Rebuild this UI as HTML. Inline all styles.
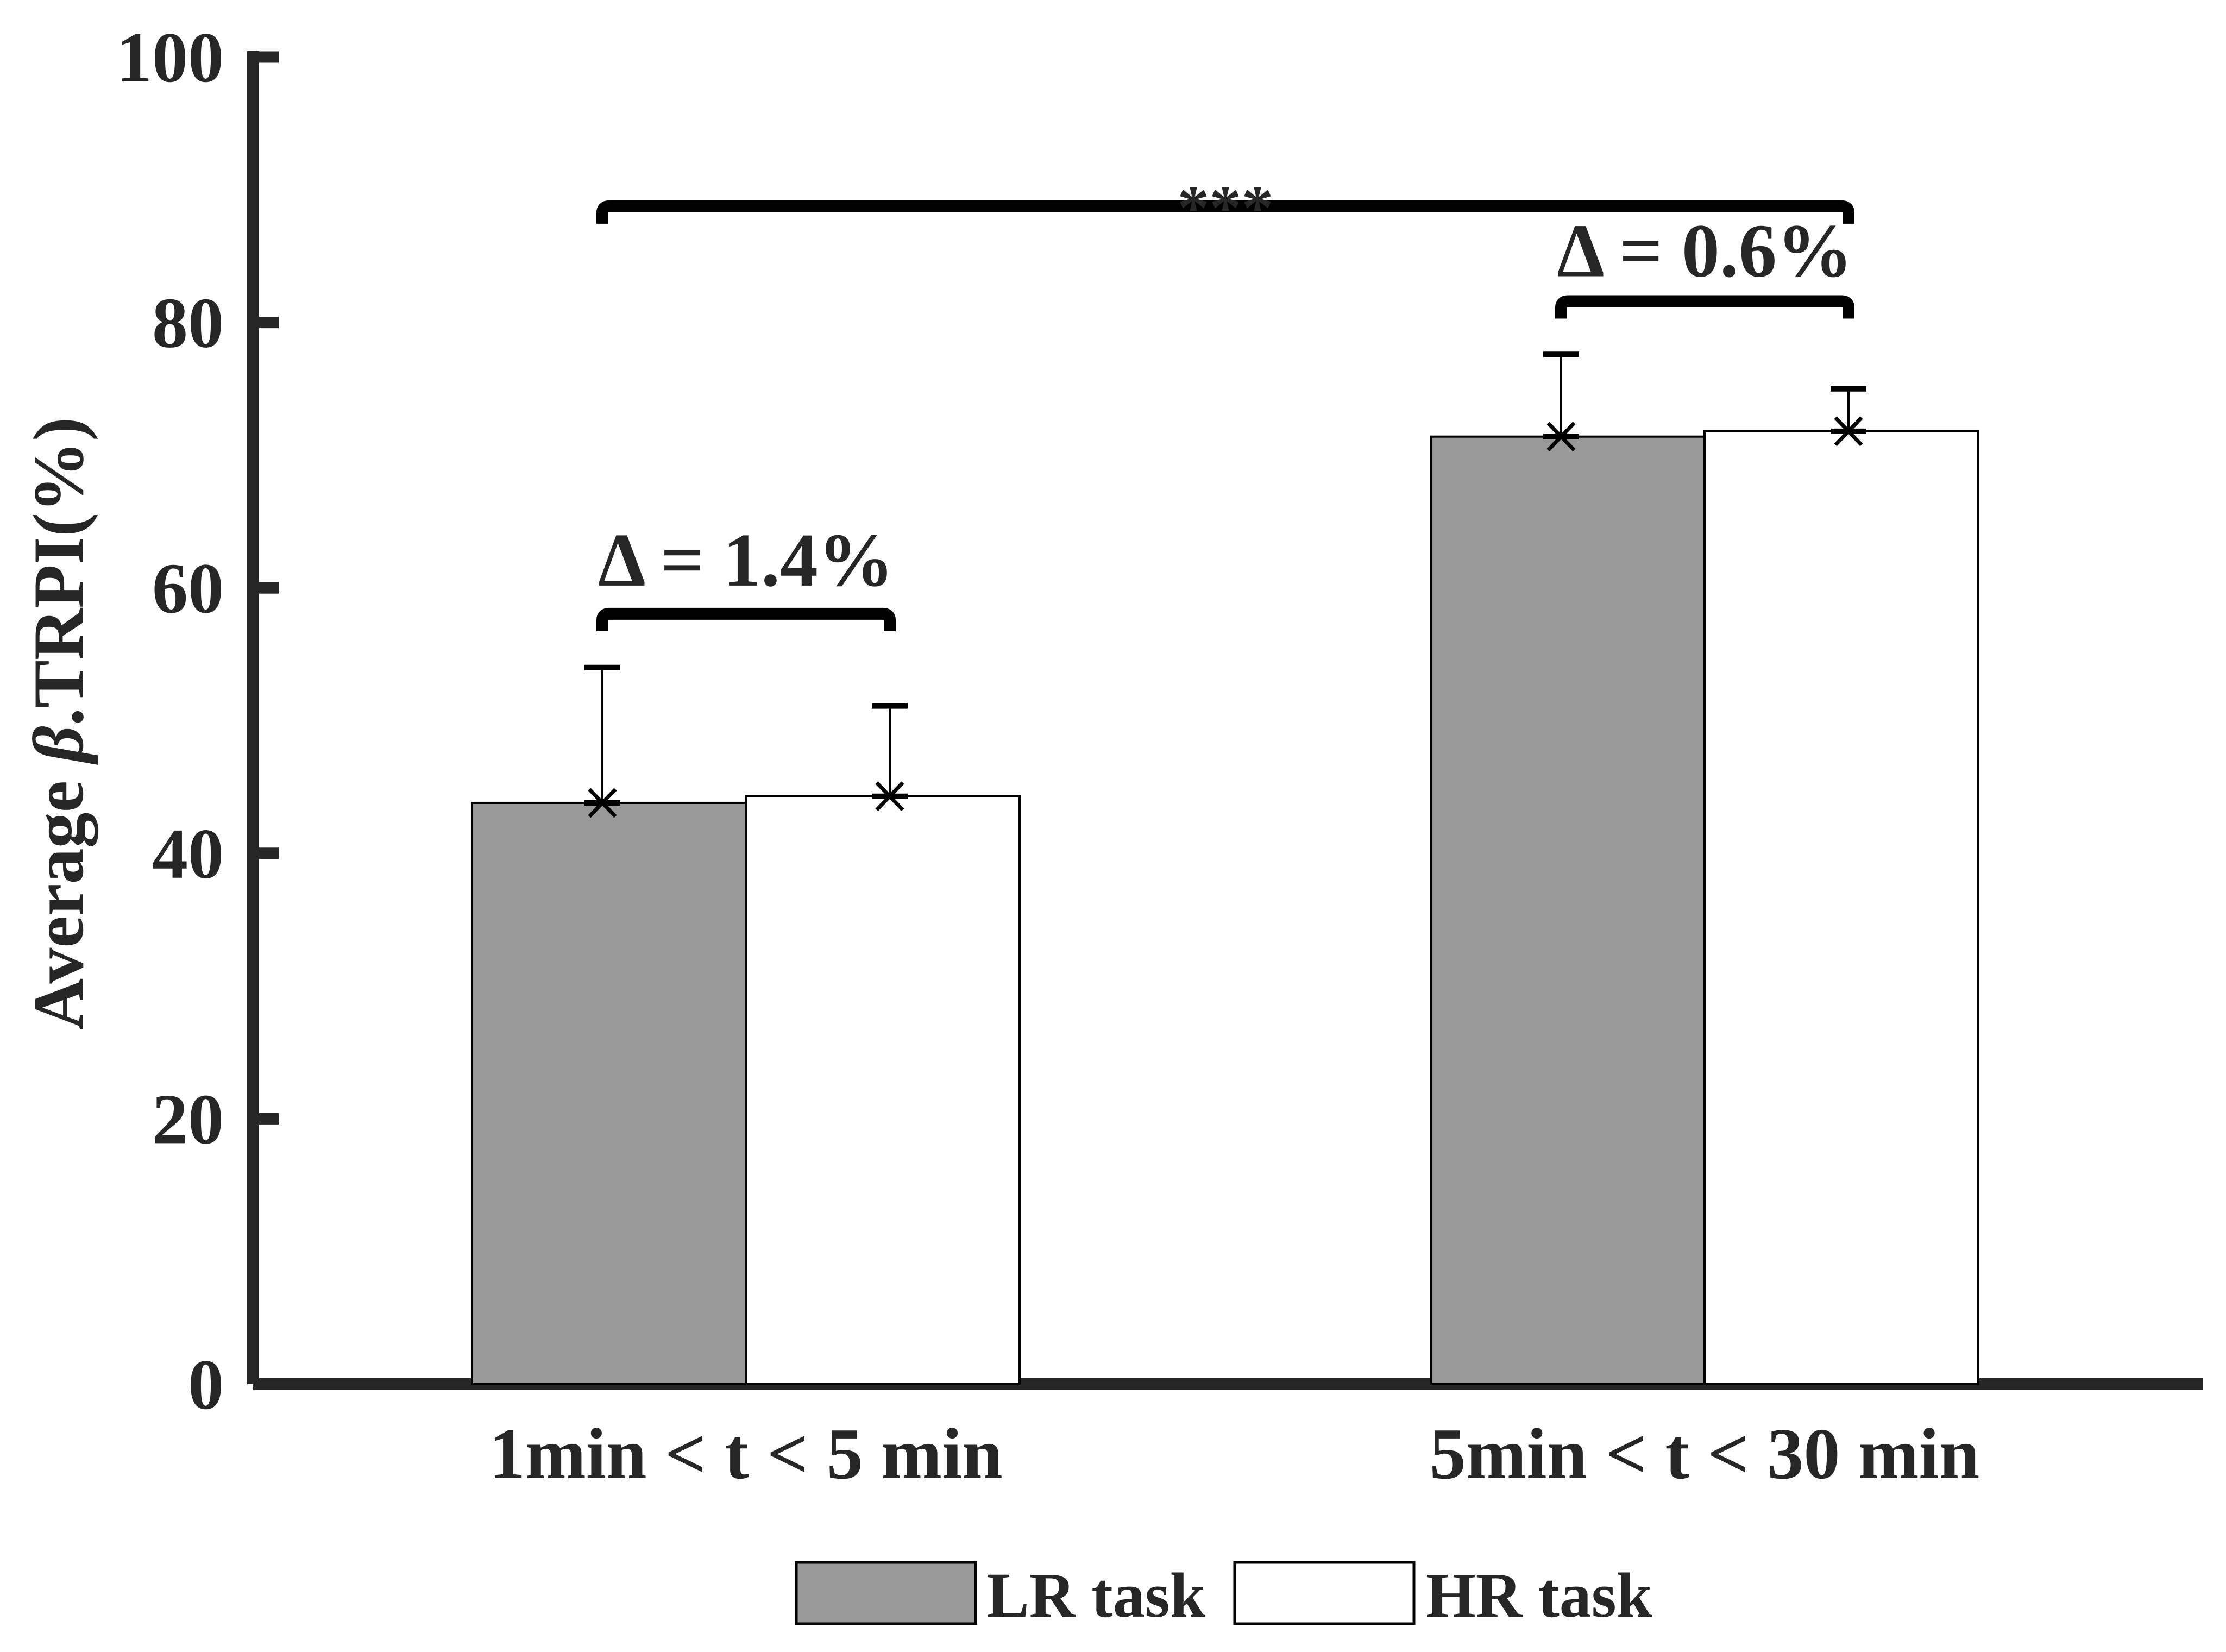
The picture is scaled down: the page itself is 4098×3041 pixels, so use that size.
<!DOCTYPE html>
<html><head><meta charset="utf-8"><style>
html,body{margin:0;padding:0;background:#fff}
svg{display:block}
text{font-family:"Liberation Serif",serif;font-weight:bold;fill:#262626}
</style></head><body>
<svg id="chart" width="4098" height="3041" viewBox="0 0 4098 3041" xmlns="http://www.w3.org/2000/svg">
<g id="axes"></g>
<g id="bars"></g>
<g id="errs"></g>
<g id="sig"></g>
<text x="0" y="0" font-size="132" text-anchor="middle" transform="translate(152,1332) rotate(-90)">Average <tspan font-style="italic">β</tspan>.TRPI(%)</text>
<g>
<rect x="1466" y="2876" width="330" height="113" fill="#999999" stroke="#000" stroke-width="5"/>
<text x="1816" y="2976" font-size="118" fill="#000">LR task</text>
<rect x="2273" y="2876" width="330" height="113" fill="#fff" stroke="#000" stroke-width="5"/>
<text x="2625" y="2976" font-size="118" fill="#000">HR task</text>
</g>
</svg>
<script>
const categories = ["1min < t < 5 min", "5min < t < 30 min"];
const lrValues = [43.8, 71.4];
const hrValues = [44.3, 71.8];
const lrErrors = [10.2, 6.2];
const hrErrors = [6.8, 3.2];
const yTicks = [0, 20, 40, 60, 80, 100];
const sigLabels = ["Δ = 1.4%", "Δ = 0.6%", "***"];
const sigLevels = [58.05, 81.6, 88.75];

const NS = "http://www.w3.org/2000/svg";
const y0 = 2548, yTop = 105;
function yScale(v){ return y0 - (y0 - yTop) * v / 100; }
const groupCenters = [1373, 3138];
const barW = 504;
function xCenter(i){ return groupCenters[i]; }
function mk(tag, attrs, parent){
  const e = document.createElementNS(NS, tag);
  for (const k in attrs) e.setAttribute(k, attrs[k]);
  parent.appendChild(e); return e;
}
const axes = document.getElementById('axes');
const bars = document.getElementById('bars');
const errs = document.getElementById('errs');
const sig = document.getElementById('sig');

let yl = mk('rect', {x:455, y:yScale(100)-11, width:22, height:y0-yScale(100)+11, fill:'#262626'}, axes);


yTicks.forEach(t => {
  const yy = yScale(t);
  if (t > 0) {
    const tk = mk('rect', {x:477, y:yy-10.5, width:36, height:21, fill:'#262626'}, axes);
    
    
  }
  const tl = mk('text', {x:412, y:yy+45, 'font-size':132, 'text-anchor':'end'}, axes);
  tl.textContent = t;
  
  
});

categories.forEach((c, i) => {
  const cx = xCenter(i);
  const lr = mk('rect', {x:cx-barW, y:yScale(lrValues[i]), width:barW, height:y0-yScale(lrValues[i]), fill:'#999999', stroke:'#000', 'stroke-width':4}, bars);
  
  
  const hr = mk('rect', {x:cx, y:yScale(hrValues[i]), width:barW, height:y0-yScale(hrValues[i]), fill:'#fff', stroke:'#000', 'stroke-width':4}, bars);
  
  
  const lab = mk('text', {x:cx, y:2721, 'font-size':134, 'text-anchor':'middle'}, axes);
  lab.textContent = c;
  
  
});

let xl = mk('rect', {x:466, y:2537, width:3590, height:22, fill:'#262626'}, axes);



function errBar(x, v, e, name){
  const g = mk('g', {}, errs);
  
  
  const ym = yScale(v), yt = yScale(v + e);
  mk('line', {x1:x, y1:ym, x2:x, y2:yt, stroke:'#000', 'stroke-width':4}, g);
  mk('line', {x1:x-33, y1:yt, x2:x+33, y2:yt, stroke:'#000', 'stroke-width':10}, g);
  mk('line', {x1:x-33, y1:ym, x2:x+33, y2:ym, stroke:'#000', 'stroke-width':10}, g);
  mk('line', {x1:x-24, y1:ym-25, x2:x+24, y2:ym+25, stroke:'#000', 'stroke-width':7}, g);
  mk('line', {x1:x-24, y1:ym+25, x2:x+24, y2:ym-25, stroke:'#000', 'stroke-width':7}, g);
}
categories.forEach((c, i) => {
  errBar(xCenter(i) - barW/2 - 12, lrValues[i], lrErrors[i], 'error-bar-lr-' + (i+1));
  errBar(xCenter(i) + barW/2 + 13, hrValues[i], hrErrors[i], 'error-bar-hr-' + (i+1));
});

function bracket(x1, x2, v, label, fs, dy, name){
  const g = mk('g', {}, sig);
  
  
  const yy = yScale(v);
  mk('path', {d:`M${x1+11} ${yy+32} L${x1+11} ${yy+12} Q${x1+11} ${yy} ${x1+24} ${yy} L${x2-24} ${yy} Q${x2-11} ${yy} ${x2-11} ${yy+12} L${x2-11} ${yy+32}`, fill:'none', stroke:'#000', 'stroke-width':22}, g);
  const t = mk('text', {x:(x1+x2)/2, y:yy+dy, 'font-size':fs, 'text-anchor':'middle', fill:'#000'}, g);
  t.textContent = label;
}
bracket(1098, 1649, sigLevels[0], sigLabels[0], 140, -52, 'bracket-group1');
bracket(2863, 3414, sigLevels[1], sigLabels[1], 140, -46, 'bracket-group2');
bracket(1098, 3414, sigLevels[2], sigLabels[2], 118, 42, 'bracket-overall');
</script>
</body></html>
